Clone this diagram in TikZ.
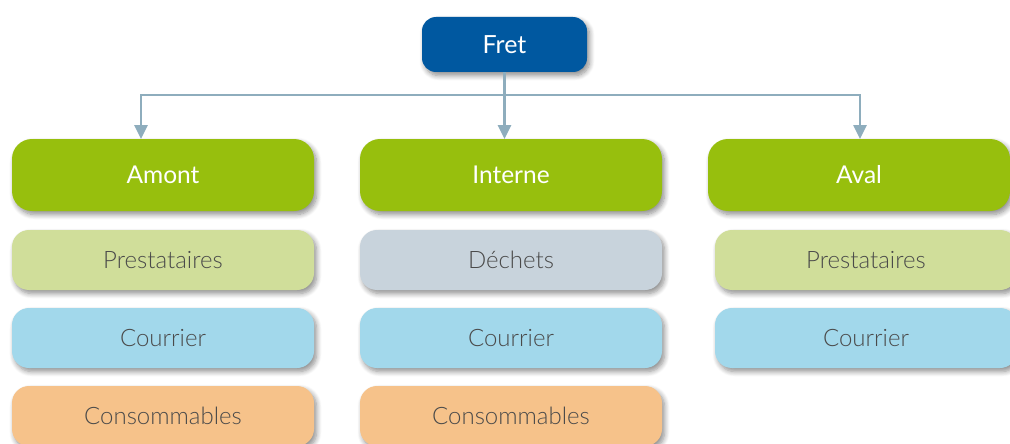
\documentclass[tikz,border=0pt]{standalone}
\usepackage{fontspec}
\setmainfont{Lato}
\newfontfamily\lightfont{Lato Light}
\usetikzlibrary{arrows.meta,shadows.blur}
\definecolor{fretblue}{HTML}{0058A0}
\definecolor{headgreen}{HTML}{97BF0D}
\definecolor{lightgreen}{HTML}{D0DE9A}
\definecolor{greyblue}{HTML}{C8D3DC}
\definecolor{skyblue}{HTML}{A2D8EB}
\definecolor{peach}{HTML}{F6C28A}
\definecolor{linkcol}{HTML}{8EADBD}
\definecolor{labelcol}{HTML}{4A4A4A}
\tikzset{
  boxbase/.style={rounded corners=17pt, inner sep=0pt, align=center,
    blur shadow={shadow xshift=2.5pt, shadow yshift=-3.5pt, shadow blur steps=8, shadow blur radius=5pt, shadow opacity=45}},
  topbox/.style={boxbase, fill=fretblue, text=white, minimum width=165pt, minimum height=55pt, rounded corners=14pt, font=\fontsize{25}{28}\selectfont},
  headbox/.style={boxbase, fill=headgreen, text=white, minimum width=302pt, minimum height=72pt, rounded corners=20pt, font=\fontsize{24.5}{28}\selectfont},
  subbox/.style={boxbase, text=labelcol, minimum width=302pt, minimum height=60pt, font=\lightfont\fontsize{24}{28}\selectfont},
  link/.style={draw=linkcol, line width=2.6pt},
  linkarrow/.style={link, -{Triangle[width=13pt,length=14pt]}}
}
\begin{document}
\begin{tikzpicture}[x=1pt,y=1pt]
\useasboundingbox (0,0) rectangle (1010,-444);
\node[topbox] (fret) at (504.5,-44.5) {Fret};
\node[headbox] (amont) at (163,-175) {Amont};
\node[headbox] (interne) at (511,-175) {Interne};
\node[headbox] (aval) at (859,-175) {Aval};
\node[subbox, fill=lightgreen] (a1) at (163,-260) {Prestataires};
\node[subbox, fill=skyblue] (a2) at (163,-338) {Courrier};
\node[subbox, fill=peach] (a3) at (163,-416) {Consommables};
\node[subbox, fill=greyblue] (i1) at (511,-260) {Déchets};
\node[subbox, fill=skyblue] (i2) at (511,-338) {Courrier};
\node[subbox, fill=peach] (i3) at (511,-416) {Consommables};
\node[subbox, fill=lightgreen] (v1) at (866,-260) {Prestataires};
\node[subbox, fill=skyblue] (v2) at (866,-338) {Courrier};
\coordinate (bar) at (504.5,-95);
\coordinate (amontin) at (141,-139);
\coordinate (intin) at (504.5,-139);
\coordinate (avalin) at (860,-139);
\draw[link] (fret.south) -- (bar);
\draw[linkarrow] (bar) -- (intin);
\draw[linkarrow] (bar) -| (amontin);
\draw[linkarrow] (bar) -| (avalin);
\end{tikzpicture}
\end{document}
